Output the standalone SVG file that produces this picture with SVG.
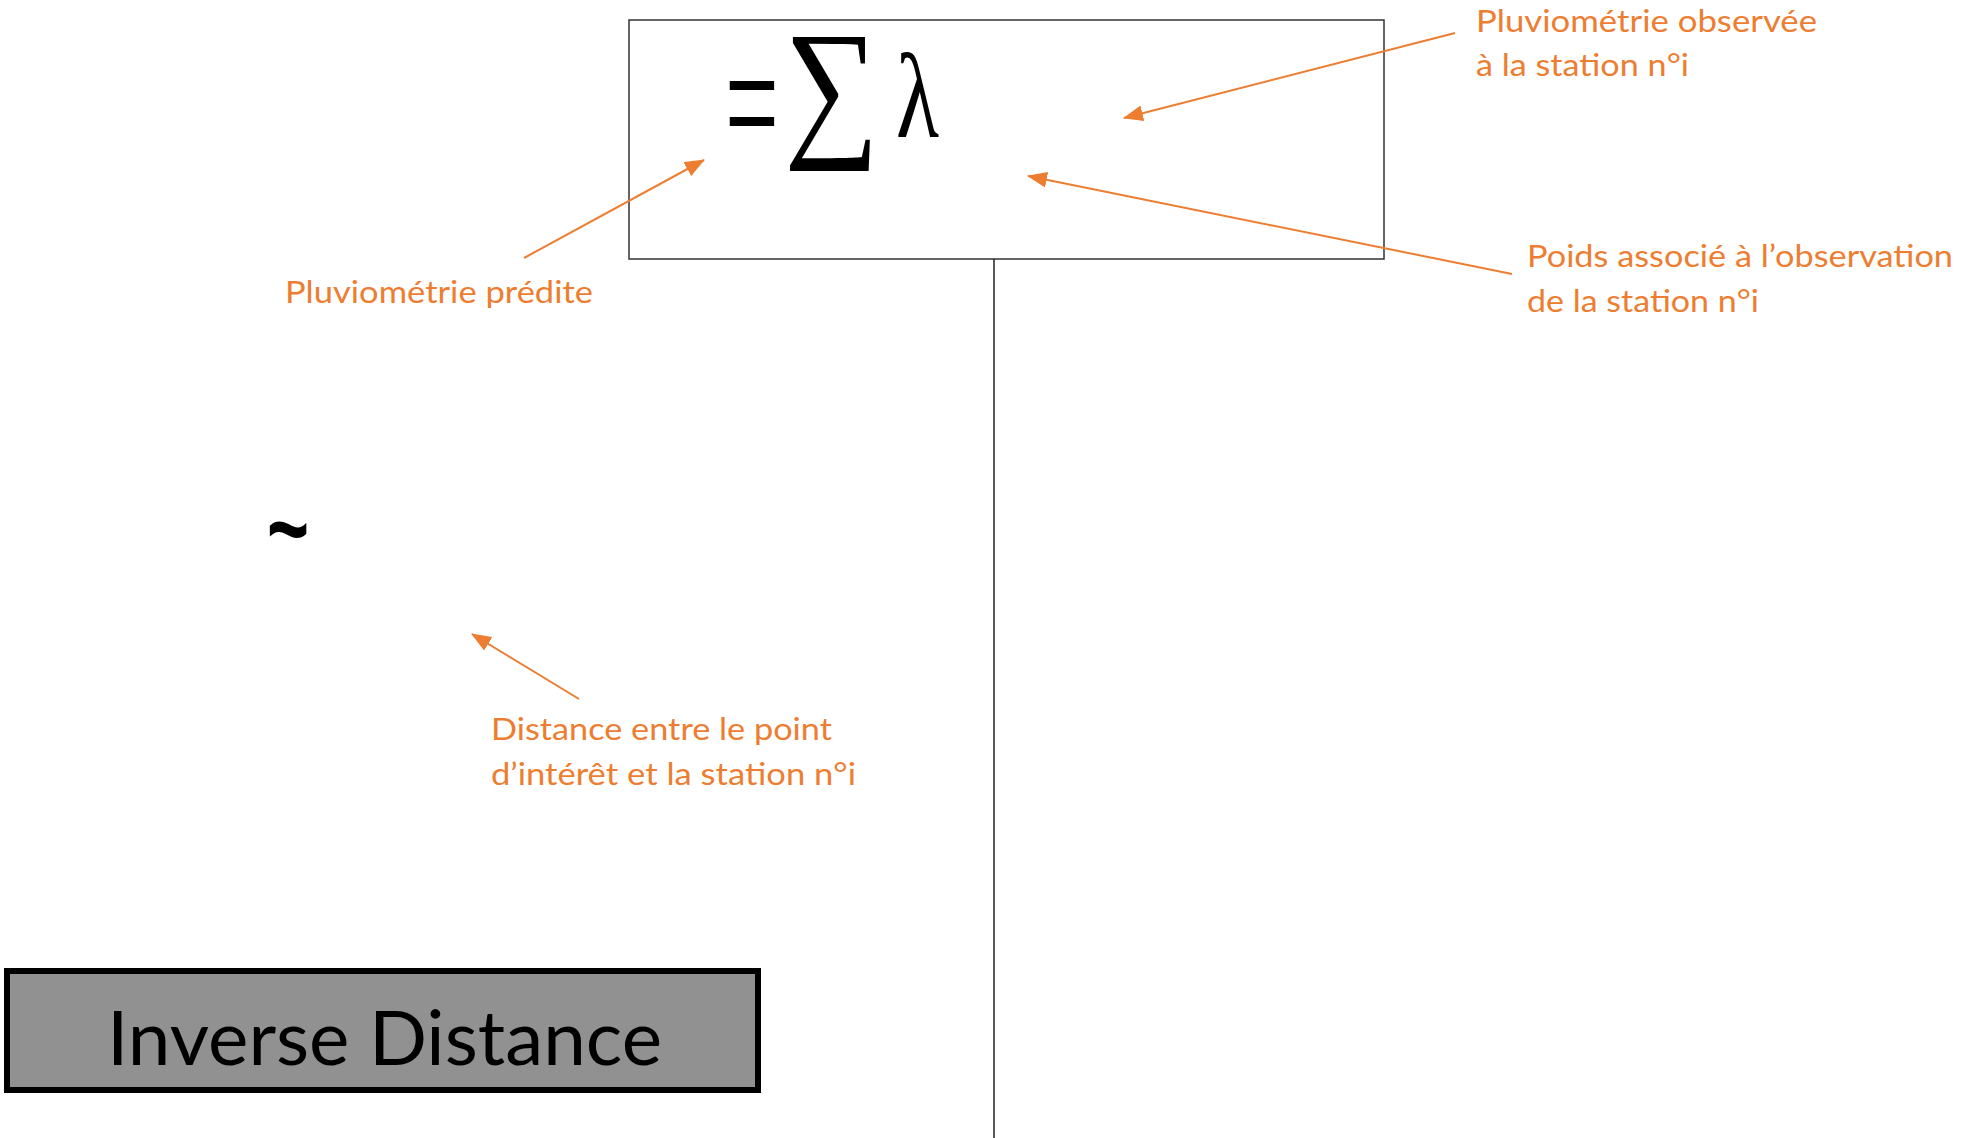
<svg xmlns="http://www.w3.org/2000/svg" width="1965" height="1138" viewBox="0 0 1965 1138">
<style>
.lbl{font-family:Lato,"Open Sans","Liberation Sans",sans-serif;font-size:30px;fill:#ED7D31}
.math{font-family:"Liberation Serif","DejaVu Serif",serif;fill:#000}
.conn{stroke:#ED7D31;stroke-width:2;fill:none;marker-end:url(#ah)}
</style>
<defs>
<marker id="ah" markerUnits="userSpaceOnUse" markerWidth="20" markerHeight="16" viewBox="0 0 20 16" refX="19" refY="8" orient="auto">
<path d="M0,0 L20,8 L0,16 z" fill="#ED7D31"/>
</marker>
</defs>
<rect width="1965" height="1138" fill="#fff"/>
<g id="formula-box">
<rect x="629" y="20" width="755" height="239" fill="#fff" stroke="#333" stroke-width="1.5"/>
<text class="math" transform="translate(725,163) scale(0.53,1)" font-size="180">=</text>
<text class="math" transform="translate(784,138) scale(0.89,1.03)" font-size="150">∑</text>
<text class="math" transform="translate(896,137) scale(0.74,1)" font-size="120">λ</text>
</g>
<g id="vline">
<line x1="994" y1="259" x2="994" y2="1138" stroke="#222" stroke-width="1.5"/>
</g>
<g id="tilde">
<text transform="translate(267,564) scale(0.8,1.15)" font-family="'Liberation Sans',sans-serif" font-weight="bold" font-size="90" fill="#000">~</text>
</g>
<g id="label-observed">
<text class="lbl" x="1476" y="32" textLength="341" lengthAdjust="spacingAndGlyphs">Pluviométrie observée</text>
<text class="lbl" x="1476" y="76" textLength="213" lengthAdjust="spacingAndGlyphs">à la station n°i</text>
</g>
<g id="label-weight">
<text class="lbl" x="1527" y="267" textLength="426" lengthAdjust="spacingAndGlyphs">Poids associé à l’observation</text>
<text class="lbl" x="1527" y="312" textLength="232" lengthAdjust="spacingAndGlyphs">de la station n°i</text>
</g>
<g id="label-predicted">
<text class="lbl" x="285" y="303" textLength="308" lengthAdjust="spacingAndGlyphs">Pluviométrie prédite</text>
</g>
<g id="label-distance">
<text class="lbl" x="491" y="740" textLength="341" lengthAdjust="spacingAndGlyphs">Distance entre le point</text>
<text class="lbl" x="491" y="785" textLength="365" lengthAdjust="spacingAndGlyphs">d’intérêt et la station n°i</text>
</g>
<g id="inverse-distance">
<rect x="7" y="971" width="751" height="119" fill="#919191" stroke="#000" stroke-width="6"/>
<text x="107" y="1065" font-family="Lato,'Open Sans',sans-serif" font-size="76" fill="#000" textLength="555" lengthAdjust="spacingAndGlyphs">Inverse Distance</text>
</g>
<g id="connectors">
<line class="conn" x1="1455" y1="33" x2="1124" y2="118"/>
<line class="conn" x1="1512" y1="274" x2="1028" y2="176"/>
<line class="conn" x1="524" y1="258" x2="704" y2="160"/>
<line class="conn" x1="579" y1="699" x2="472" y2="634"/>
</g>
</svg>
